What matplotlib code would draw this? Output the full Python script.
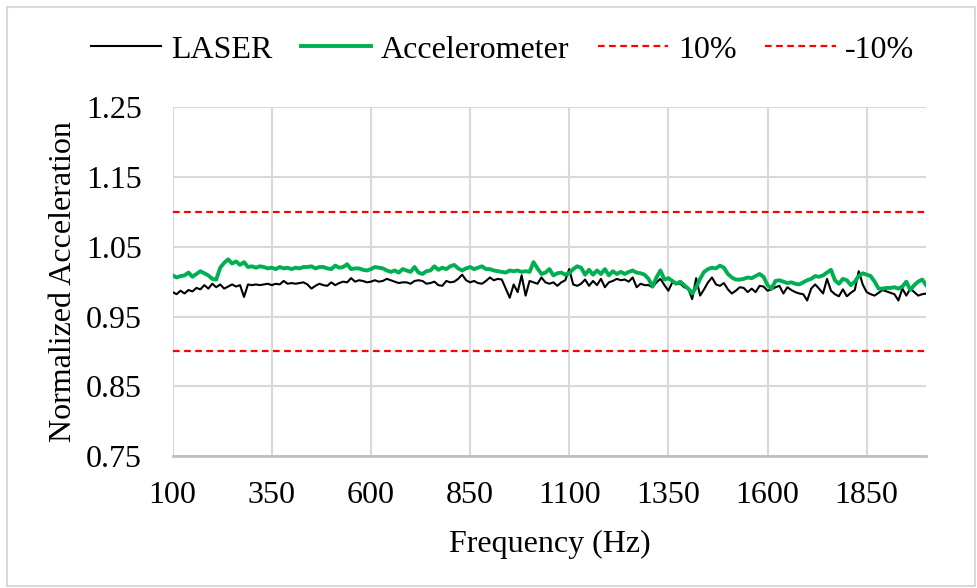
import matplotlib
matplotlib.use("Agg")
import matplotlib.pyplot as plt
import numpy as np
from matplotlib.patches import Rectangle

# frequency grid (Hz), one reading every 10 Hz
freq = np.arange(100, 2001, 10)

laser = [
    0.985, 0.982, 0.987, 0.983, 0.988, 0.986, 0.991, 0.989, 0.995, 0.990,
    0.997, 0.992, 0.996, 0.990, 0.993, 0.996, 0.993, 0.995, 0.978, 0.996,
    0.995, 0.996, 0.995, 0.996, 0.997, 0.995, 0.997, 0.996, 1.001, 0.997,
    0.998, 0.997, 0.998, 0.999, 0.996, 0.990, 0.994, 0.997, 0.995, 0.994,
    0.999, 0.995, 0.998, 1.000, 0.999, 1.005, 1.000, 1.002, 1.001, 0.999,
    1.000, 1.002, 1.000, 1.001, 1.004, 1.002, 1.000, 0.998, 0.999, 0.999,
    0.997, 1.001, 1.002, 1.001, 0.997, 0.998, 1.000, 0.995, 0.994, 1.001,
    0.999, 1.000, 1.004, 1.010, 1.002, 0.999, 1.001, 0.998, 0.997, 1.001,
    1.006, 1.002, 1.004, 1.003, 0.990, 0.977, 0.996, 0.985, 1.009, 0.980,
    1.001, 0.999, 0.997, 1.006, 0.999, 0.997, 0.999, 0.994, 0.999, 1.002,
    1.018, 0.996, 0.994, 0.997, 1.003, 0.994, 1.001, 0.995, 1.004, 0.992,
    0.999, 1.001, 1.004, 1.002, 1.003, 1.000, 1.006, 0.992, 0.997, 0.995,
    0.995, 0.992, 0.999, 1.004, 0.995, 0.987, 0.999, 0.997, 0.997, 0.992,
    0.990, 0.975, 1.005, 0.980, 0.989, 0.999, 1.006, 0.996, 0.994, 0.998,
    0.989, 0.983, 0.987, 0.992, 0.991, 0.985, 0.990, 0.985, 0.994, 0.993,
    0.987, 0.989, 0.992, 0.994, 0.983, 0.992, 0.988, 0.985, 0.983, 0.982,
    0.973, 0.990, 0.996, 0.990, 0.983, 1.004, 0.987, 0.982, 0.979, 0.989,
    0.979, 0.984, 0.988, 1.015, 0.996, 0.985, 0.982, 0.980, 0.984, 0.988,
    0.986, 0.984, 0.982, 0.973, 0.990, 0.980, 0.990, 0.985, 0.980, 0.982,
    0.983,
]

accelerometer = [
    1.009, 1.006, 1.008, 1.009, 1.013, 1.007, 1.011, 1.015, 1.012, 1.009,
    1.004, 1.003, 1.020, 1.027, 1.032, 1.026, 1.029, 1.024, 1.028, 1.021,
    1.022, 1.020, 1.022, 1.021, 1.019, 1.020, 1.018, 1.021, 1.019, 1.020,
    1.018, 1.020, 1.019, 1.021, 1.021, 1.022, 1.019, 1.021, 1.021, 1.019,
    1.018, 1.023, 1.020, 1.021, 1.025, 1.018, 1.019, 1.019, 1.017, 1.016,
    1.018, 1.021, 1.020, 1.019, 1.016, 1.014, 1.016, 1.013, 1.018, 1.016,
    1.014, 1.021, 1.013, 1.011, 1.015, 1.016, 1.022, 1.017, 1.020, 1.018,
    1.022, 1.024, 1.019, 1.016, 1.019, 1.021, 1.018, 1.020, 1.022, 1.018,
    1.018, 1.016, 1.015, 1.014, 1.013, 1.016, 1.015, 1.016, 1.014, 1.015,
    1.014, 1.028, 1.019, 1.011, 1.013, 1.018, 1.009, 1.012, 1.013, 1.010,
    1.012, 1.018, 1.022, 1.020, 1.010, 1.017, 1.010, 1.016, 1.011, 1.018,
    1.009, 1.015, 1.011, 1.014, 1.011, 1.014, 1.016, 1.013, 1.012, 1.010,
    1.004, 0.993, 1.006, 1.016, 1.003, 1.005, 1.001, 0.997, 1.000, 0.995,
    0.990, 0.983, 0.992, 1.004, 1.014, 1.018, 1.020, 1.019, 1.023, 1.020,
    1.011, 1.006, 1.003, 1.003, 1.004, 1.006, 1.005, 1.008, 1.011, 1.007,
    0.995, 0.990, 1.001, 1.002, 1.000, 0.998, 0.999, 0.997, 0.996, 0.999,
    1.002, 1.004, 1.008, 1.007, 1.009, 1.013, 1.017, 1.002, 0.997, 1.004,
    1.002, 0.995, 1.000, 1.008, 1.012, 1.010, 1.008, 1.000, 0.990, 0.990,
    0.991, 0.991, 0.992, 0.990, 0.993, 1.000, 0.988, 0.995, 1.000, 1.003,
    0.995,
]

upper_limit = 1.10
lower_limit = 0.90

x_ticks = [100, 350, 600, 850, 1100, 1350, 1600, 1850]
y_ticks = [0.75, 0.85, 0.95, 1.05, 1.15, 1.25]

plt.rcParams["font.family"] = ["Liberation Serif", "DejaVu Serif"]
plt.rcParams["font.size"] = 23

fig = plt.figure(figsize=(9.78, 5.88), dpi=100)
ax = fig.add_axes([0.1765, 0.2245, 0.7705, 0.593])

grid_color = "#d9d9d9"
ax.plot(freq, laser, color="black", linewidth=1.5, label="LASER", zorder=3)
ax.plot(freq, accelerometer, color="#00b050", linewidth=2.8, label="Accelerometer", zorder=4)
ax.axhline(upper_limit, color="red", linewidth=1.6, linestyle=(0, (3, 2)), label="10%", zorder=2)
ax.axhline(lower_limit, color="red", linewidth=1.6, linestyle=(0, (3, 2)), label="-10%", zorder=2)

ax.set_xlim(100, 2000)
ax.set_ylim(0.75, 1.25)
ax.set_xticks(x_ticks)
ax.set_yticks(y_ticks)
ax.set_yticklabels([f"{v:.2f}" for v in y_ticks])
ax.grid(True, color=grid_color, linewidth=1.5, zorder=0)
ax.set_axisbelow(True)
ax.tick_params(length=0)
ax.tick_params(axis="x", pad=18)
ax.tick_params(axis="y", pad=22)

for side in ["top", "right", "left"]:
    ax.spines[side].set_visible(False)
ax.spines["bottom"].set_color("#bfbfbf")
ax.spines["bottom"].set_linewidth(2)

ax.set_xlabel("Frequency (Hz)", labelpad=14)
ax.set_ylabel("Normalized Acceleration", labelpad=6)

fig.legend(
    loc="center",
    bbox_to_anchor=(0.514, 1 - 50 / 588),
    ncol=4,
    frameon=False,
    handlelength=2.2,
    handletextpad=0.3,
    columnspacing=0.9,
)

# chart-area border
fig.patches.append(
    Rectangle((0.007, 0.003), 0.99, 0.985, transform=fig.transFigure,
              fill=False, edgecolor="#d9d9d9", linewidth=1.5)
)

fig.savefig("out.png", dpi=100)
